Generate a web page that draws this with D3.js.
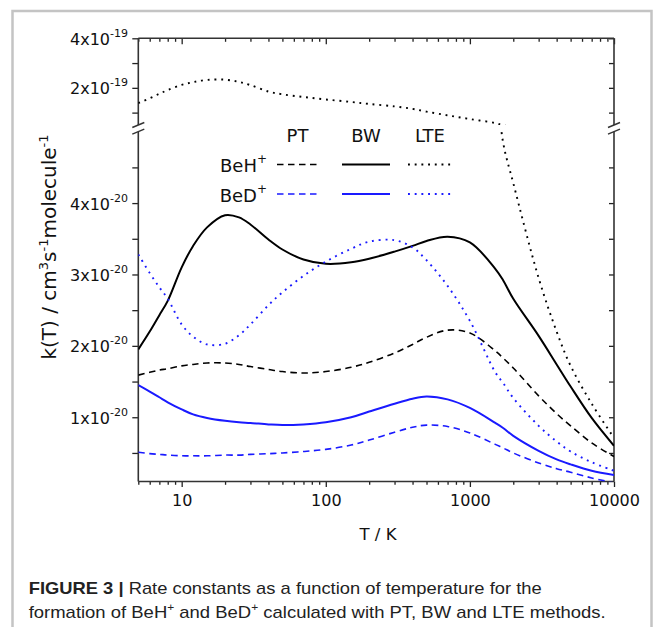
<!DOCTYPE html>
<html>
<head>
<meta charset="utf-8">
<script src="https://cdn.jsdelivr.net/npm/d3@7"></script>
<style>
  body { margin: 0; background: #fff; }
  svg { display: block; font-family: "DejaVu Sans", sans-serif; }
</style>
</head>
<body>
<svg width="663" height="627"></svg>
<script>
// temperatures (K) and rate constants in units of 1e-20 cm3 s-1 molecule-1
const temps = [5, 6, 7, 8, 10, 12, 15, 20, 25, 30, 40, 50, 70, 100, 150, 200, 300, 400, 500, 700, 1000, 1500, 1700, 2000, 3000, 4000, 5000, 7000, 10000];
const kBeH_PT = [1.59, 1.63, 1.66, 1.68, 1.72, 1.74, 1.76, 1.76, 1.74, 1.71, 1.67, 1.64, 1.62, 1.64, 1.70, 1.77, 1.90, 2.02, 2.12, 2.22, 2.18, 1.93, 1.83, 1.69, 1.30, 1.05, 0.88, 0.64, 0.45];
const kBeH_BW = [1.95, 2.20, 2.43, 2.63, 3.10, 3.40, 3.66, 3.83, 3.80, 3.70, 3.49, 3.35, 3.21, 3.15, 3.17, 3.22, 3.32, 3.40, 3.47, 3.53, 3.45, 3.08, 2.92, 2.66, 2.14, 1.74, 1.43, 0.99, 0.60];
const kBeH_LTE = [13.8, 15.8, 17.6, 19.1, 21.2, 22.3, 23.2, 23.3, 22.4, 21.1, 18.5, 17.4, 16.3, 15.3, 14.3, 13.5, 12.5, 11.5, 10.4, 8.9, 7.4, 5.8, 4.85, 4.28, 2.95, 2.20, 1.72, 1.19, 0.71];
const kBeD_PT = [0.51, 0.49, 0.48, 0.47, 0.46, 0.46, 0.46, 0.47, 0.47, 0.48, 0.49, 0.50, 0.52, 0.55, 0.61, 0.68, 0.79, 0.86, 0.89, 0.87, 0.78, 0.62, 0.57, 0.50, 0.36, 0.28, 0.23, 0.15, 0.08];
const kBeD_BW = [1.45, 1.36, 1.28, 1.21, 1.11, 1.04, 0.99, 0.95, 0.93, 0.92, 0.90, 0.89, 0.90, 0.93, 1.00, 1.08, 1.19, 1.26, 1.29, 1.25, 1.13, 0.92, 0.85, 0.74, 0.53, 0.41, 0.34, 0.25, 0.19];
const kBeD_LTE = [3.28, 3.02, 2.82, 2.66, 2.30, 2.13, 2.02, 2.03, 2.15, 2.30, 2.57, 2.75, 2.98, 3.18, 3.36, 3.46, 3.48, 3.38, 3.20, 2.84, 2.35, 1.63, 1.48, 1.27, 0.88, 0.66, 0.52, 0.37, 0.25];

const species = ['BeH', 'BeD'];
const methods = ['PT', 'BW', 'LTE'];
const xMajor = [10, 100, 1000, 10000];
const lowerMajor = [1, 2, 3, 4];       // x1e-20
const upperMajor = [20, 40];           // x1e-20 -> 2x10^-19, 4x10^-19

const series = [
  { sp: 'BeH', m: 'PT', k: kBeH_PT },
  { sp: 'BeH', m: 'BW', k: kBeH_BW },
  { sp: 'BeH', m: 'LTE', k: kBeH_LTE },
  { sp: 'BeD', m: 'PT', k: kBeD_PT },
  { sp: 'BeD', m: 'BW', k: kBeD_BW },
  { sp: 'BeD', m: 'LTE', k: kBeD_LTE }
];

const colors = { BeH: '#000000', BeD: '#1a1aff' };
const styles = {
  PT: { w: 1.6, dash: '6.5,4.5' },
  BW: { w: 2, dash: null },
  LTE: { w: 1.9, dash: '1.9,4.8' }
};

const pLeft = 138.3, pRight = 614, pTop = 38.3, pBottom = 481.5;
const breakHi = 125, breakLo = 131.7;

const x = d3.scaleLog().domain([5, 10000]).range([pLeft, pRight]);
const yLow = d3.scaleLinear().domain([0.1, 5]).range([pBottom, breakLo]);
const yHigh = d3.scaleLinear().domain([5, 40]).range([breakHi, pTop]);

const svg = d3.select('svg');

// figure card border
svg.append('rect')
  .attr('x', 12.5).attr('y', 11).attr('width', 639).attr('height', 700)
  .attr('fill', 'none').attr('stroke', '#c4c4c4').attr('stroke-width', 2.5);

const defs = svg.append('defs');
defs.append('clipPath').attr('id', 'clipHigh').append('rect')
  .attr('x', pLeft).attr('y', pTop).attr('width', pRight - pLeft).attr('height', breakHi - pTop);
defs.append('clipPath').attr('id', 'clipLow').append('rect')
  .attr('x', pLeft).attr('y', breakLo).attr('width', pRight - pLeft).attr('height', pBottom - breakLo);

// x ticks
const minors = [];
[1, 10, 100, 1000].forEach(d => {
  for (let i = 2; i <= 9; i++) {
    const v = d * i;
    if (v >= 5 && v < 10000 && !xMajor.includes(v)) minors.push(v);
  }
});

const axisStyle = g => {
  g.select('.domain').remove();
  g.selectAll('line').attr('stroke', '#222').attr('stroke-width', 1.3);
};

svg.append('g').attr('transform', `translate(0,${pBottom})`)
  .call(d3.axisBottom(x).tickValues(xMajor).tickSize(5.5).tickSizeOuter(0).tickFormat(d3.format('d')))
  .call(axisStyle)
  .call(g => g.selectAll('text').attr('font-size', 16).attr('fill', '#111')
    .attr('font-family', '"DejaVu Sans", sans-serif').attr('dy', null).attr('y', 24.5));
svg.append('g').attr('transform', `translate(0,${pBottom})`)
  .call(d3.axisBottom(x).tickValues(minors).tickSize(3.3).tickSizeOuter(0).tickFormat(''))
  .call(axisStyle);
svg.append('g').attr('transform', `translate(0,${pTop})`)
  .call(d3.axisTop(x).tickValues(xMajor).tickSize(-6).tickSizeOuter(0).tickFormat(''))
  .call(axisStyle);
svg.append('g').attr('transform', `translate(0,${pTop})`)
  .call(d3.axisTop(x).tickValues(minors).tickSize(-3.5).tickSizeOuter(0).tickFormat(''))
  .call(axisStyle);

// y ticks (every 0.5e-20 below the break, every 1e-19 above)
const lowTicks = d3.range(0.5, 4.6, 0.5);
const highTicks = [10, 20, 30, 40];
[[yLow, lowTicks], [yHigh, highTicks]].forEach(([sc, tv]) => {
  svg.append('g').attr('transform', `translate(${pLeft},0)`)
    .call(d3.axisLeft(sc).tickValues(tv).tickSize(6).tickSizeOuter(0).tickFormat(''))
    .call(axisStyle);
  svg.append('g').attr('transform', `translate(${pRight},0)`)
    .call(d3.axisRight(sc).tickValues(tv).tickSize(-5).tickSizeOuter(0).tickFormat(''))
    .call(axisStyle);
});

// y tick labels with superscript exponents
const yLabel = (sc, vals, mant, exp) => {
  const t = svg.selectAll(null).data(vals).enter().append('text')
    .attr('x', 128).attr('y', d => sc(d) + 6.5)
    .attr('text-anchor', 'end').attr('font-size', 16).attr('fill', '#111');
  t.append('tspan').text(d => mant(d) + 'x10');
  t.append('tspan').attr('font-size', 11).attr('dy', -8).text(exp);
};
yLabel(yLow, lowerMajor, d => d, '-20');
yLabel(yHigh, upperMajor, d => d / 10, '-19');

// spines with axis break
const spine = (x1, y1, x2, y2) => svg.append('line')
  .attr('x1', x1).attr('y1', y1).attr('x2', x2).attr('y2', y2)
  .attr('stroke', '#333').attr('stroke-width', 1.6);
spine(pLeft, pTop, pRight, pTop);
spine(pLeft, pBottom, pRight, pBottom);
[pLeft, pRight].forEach(xx => {
  spine(xx, pTop, xx, breakHi);
  spine(xx, breakLo, xx, pBottom);
  [breakHi, breakLo].forEach(yy => {
    svg.append('line')
      .attr('x1', xx - 6).attr('y1', yy + 2.5).attr('x2', xx + 6).attr('y2', yy - 2.5)
      .attr('stroke', '#333').attr('stroke-width', 1.4);
  });
});

// curves, drawn in each panel with its own scale and clipped
[['clipHigh', yHigh], ['clipLow', yLow]].forEach(([clip, ys]) => {
  const g = svg.append('g').attr('clip-path', `url(#${clip})`);
  const line = d3.line()
    .x((d, i) => x(temps[i]))
    .y(d => ys(d))
    .curve(d3.curveCatmullRom.alpha(0.5));
  series.forEach(s => {
    g.append('path')
      .attr('d', line(s.k))
      .attr('fill', 'none')
      .attr('stroke', colors[s.sp])
      .attr('stroke-width', styles[s.m].w)
      .attr('stroke-dasharray', styles[s.m].dash);
  });
});

// legend
const legX = { PT: [277, 318], BW: [342, 390], LTE: [408, 452] };
const legY = { BeH: 164.5, BeD: 194 };
methods.forEach(m => {
  svg.append('text')
    .attr('x', (legX[m][0] + legX[m][1]) / 2).attr('y', 141.5)
    .attr('text-anchor', 'middle').attr('font-size', 18).attr('fill', '#111').text(m);
});
species.forEach(sp => {
  const t = svg.append('text').attr('x', 267).attr('y', legY[sp] + 7.5)
    .attr('text-anchor', 'end').attr('font-size', 18).attr('fill', '#111');
  t.append('tspan').text(sp);
  t.append('tspan').attr('font-size', 12).attr('dy', -9).text('+');
  methods.forEach(m => {
    svg.append('line')
      .attr('x1', legX[m][0]).attr('x2', legX[m][1])
      .attr('y1', legY[sp]).attr('y2', legY[sp])
      .attr('stroke', colors[sp])
      .attr('stroke-width', styles[m].w)
      .attr('stroke-dasharray', styles[m].dash);
  });
});

// axis titles
svg.append('text')
  .attr('x', 378).attr('y', 540)
  .attr('text-anchor', 'middle').attr('font-size', 16.5).attr('fill', '#111')
  .text('T / K');

const yt = svg.append('text')
  .attr('transform', 'translate(56,247) rotate(-90)')
  .attr('text-anchor', 'middle').attr('font-size', 20).attr('fill', '#111');
yt.append('tspan').text('k(T) / cm');
yt.append('tspan').attr('font-size', 13).attr('dy', -8).text('3');
yt.append('tspan').attr('dy', 8).text('s');
yt.append('tspan').attr('font-size', 13).attr('dy', -8).text('-1');
yt.append('tspan').attr('dy', 8).text('molecule');
yt.append('tspan').attr('font-size', 13).attr('dy', -8).text('-1');

// caption
const cap1 = svg.append('text')
  .attr('x', 28.7).attr('y', 594)
  .attr('font-family', '"Liberation Sans", Arial, sans-serif')
  .attr('font-size', 17).attr('fill', '#222')
  .attr('textLength', 513).attr('lengthAdjust', 'spacingAndGlyphs');
cap1.append('tspan').attr('font-weight', 'bold').text('FIGURE 3 |');
cap1.append('tspan').text(' Rate constants as a function of temperature for the');

const cap2 = svg.append('text')
  .attr('x', 28.7).attr('y', 618)
  .attr('font-family', '"Liberation Sans", Arial, sans-serif')
  .attr('font-size', 17).attr('fill', '#222')
  .attr('textLength', 577).attr('lengthAdjust', 'spacingAndGlyphs');
cap2.append('tspan').text('formation of BeH');
cap2.append('tspan').attr('font-size', 11).attr('dy', -7).text('+');
cap2.append('tspan').attr('dy', 7).text(' and BeD');
cap2.append('tspan').attr('font-size', 11).attr('dy', -7).text('+');
cap2.append('tspan').attr('dy', 7).text(' calculated with PT, BW and LTE methods.');
</script>
</body>
</html>
